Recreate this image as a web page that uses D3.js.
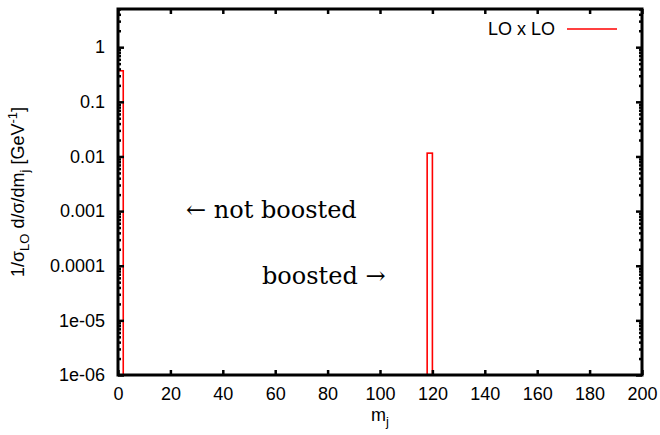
<!DOCTYPE html>
<html>
<head>
<meta charset="utf-8">
<script src="https://cdn.jsdelivr.net/npm/d3@7"></script>
<style>
  html, body { margin: 0; padding: 0; background: #fff; }
  svg { display: block; }
  .tick text { font-family: "Liberation Sans", Arial, sans-serif; font-size: 18px; fill: #000; }
</style>
</head>
<body>
<svg id="chart" width="660" height="435"></svg>
<script>
// Histogram bins of the jet mass m_j (GeV) and normalised cross section per bin
const binLow = [0, 118];
const binHigh = [2, 120];
const binValues = [0.37, 0.0115];

const seriesName = "LO x LO";

// Axis ticks
const xTickValues = [0, 20, 40, 60, 80, 100, 120, 140, 160, 180, 200];
const yTickValues = [1e-6, 1e-5, 1e-4, 1e-3, 1e-2, 1e-1, 1];
const yTickLabels = ["1e-06", "1e-05", "0.0001", "0.001", "0.01", "0.1", "1"];

const xDomain = [0, 200];
const yDomain = [1e-6, 5];

const margin = { left: 118, right: 18, top: 9, bottom: 60 };
const W = 660, H = 435;
const svg = d3.select("#chart");

const x = d3.scaleLinear().domain(xDomain).range([margin.left, W - margin.right]);
const y = d3.scaleLog().domain(yDomain).range([H - margin.bottom, margin.top]);

// minor ticks on the log axis: 2..9 of each decade
const yMinor = [];
for (let e = -6; e <= 0; e++) {
  for (let m = 2; m <= 9; m++) {
    const v = m * Math.pow(10, e);
    if (v <= yDomain[1]) yMinor.push(v);
  }
}

const x0 = margin.left, x1 = W - margin.right, y0 = H - margin.bottom, y1 = margin.top;

// bars (outlined boxes)
svg.append("g")
  .selectAll("rect")
  .data(binValues)
  .join("rect")
  .attr("x", (d, i) => x(binLow[i]))
  .attr("width", (d, i) => x(binHigh[i]) - x(binLow[i]))
  .attr("y", d => y(d))
  .attr("height", d => y(yDomain[0]) - y(d))
  .attr("fill", "none")
  .attr("stroke", "#ff0000")
  .attr("stroke-width", 1.6);

// axes with inward ticks, mirrored on top and right
const fmtY = v => yTickLabels[yTickValues.indexOf(v)];

const gB = svg.append("g").attr("transform", `translate(0,${y0})`)
  .call(d3.axisBottom(x).tickValues(xTickValues).tickSize(-5).tickPadding(12).tickFormat(d3.format("d")));
const gT = svg.append("g").attr("transform", `translate(0,${y1})`)
  .call(d3.axisTop(x).tickValues(xTickValues).tickSize(-5).tickFormat(""));
const gL = svg.append("g").attr("transform", `translate(${x0},0)`)
  .call(d3.axisLeft(y).tickValues(yTickValues).tickSize(-6).tickPadding(13).tickFormat(fmtY));
const gR = svg.append("g").attr("transform", `translate(${x1},0)`)
  .call(d3.axisRight(y).tickValues(yTickValues).tickSize(-6).tickFormat(""));
const gLm = svg.append("g").attr("transform", `translate(${x0},0)`)
  .call(d3.axisLeft(y).tickValues(yMinor).tickSize(-3).tickFormat(""));
const gRm = svg.append("g").attr("transform", `translate(${x1},0)`)
  .call(d3.axisRight(y).tickValues(yMinor).tickSize(-3).tickFormat(""));

[gB, gT, gL, gR, gLm, gRm].forEach(g => {
  g.select(".domain").remove();
  g.selectAll(".tick line").attr("stroke", "#000").attr("stroke-width", 2.5);
});
gB.selectAll(".tick text").attr("dy", "0.71em");

// frame
svg.append("rect")
  .attr("x", x0).attr("y", y1)
  .attr("width", x1 - x0).attr("height", y0 - y1)
  .attr("fill", "none").attr("stroke", "#000").attr("stroke-width", 3);

// legend
const legY = 29;
svg.append("text")
  .attr("x", 555).attr("y", legY).attr("dy", "0.35em")
  .attr("text-anchor", "end")
  .style("font-family", "'Liberation Sans', Arial, sans-serif")
  .style("font-size", "18px")
  .text(seriesName);
svg.append("line")
  .attr("x1", 567).attr("x2", 617).attr("y1", legY).attr("y2", legY)
  .attr("stroke", "#ff0000").attr("stroke-width", 1.6);

// annotations
const serif = "'DejaVu Serif', 'Liberation Serif', serif";
svg.append("text").attr("x", 186).attr("y", 218)
  .style("font-family", serif).style("font-size", "24px")
  .text("\u2190 not boosted");
svg.append("text").attr("x", 262).attr("y", 284)
  .style("font-family", serif).style("font-size", "24px")
  .text("boosted \u2192");

// axis titles
const sans = "'Liberation Sans', Arial, sans-serif";
const xl = svg.append("text")
  .attr("x", (x0 + x1) / 2).attr("y", 421)
  .attr("text-anchor", "middle")
  .style("font-family", sans).style("font-size", "18px");
xl.append("tspan").text("m");
xl.append("tspan").attr("dy", 5).style("font-size", "13px").text("j");

const yl = svg.append("text")
  .attr("transform", `translate(24,${(y0 + y1) / 2}) rotate(-90)`)
  .attr("text-anchor", "middle")
  .style("font-family", sans).style("font-size", "18px");
yl.append("tspan").text("1/\u03c3");
yl.append("tspan").attr("dy", 5).style("font-size", "13px").text("LO");
yl.append("tspan").attr("dy", -5).text(" d/\u03c3/dm");
yl.append("tspan").attr("dy", 5).style("font-size", "13px").text("j");
yl.append("tspan").attr("dy", -5).text(" [GeV");
yl.append("tspan").attr("dy", -7).style("font-size", "13px").text("-1");
yl.append("tspan").attr("dy", 7).text("]");
</script>
</body>
</html>
